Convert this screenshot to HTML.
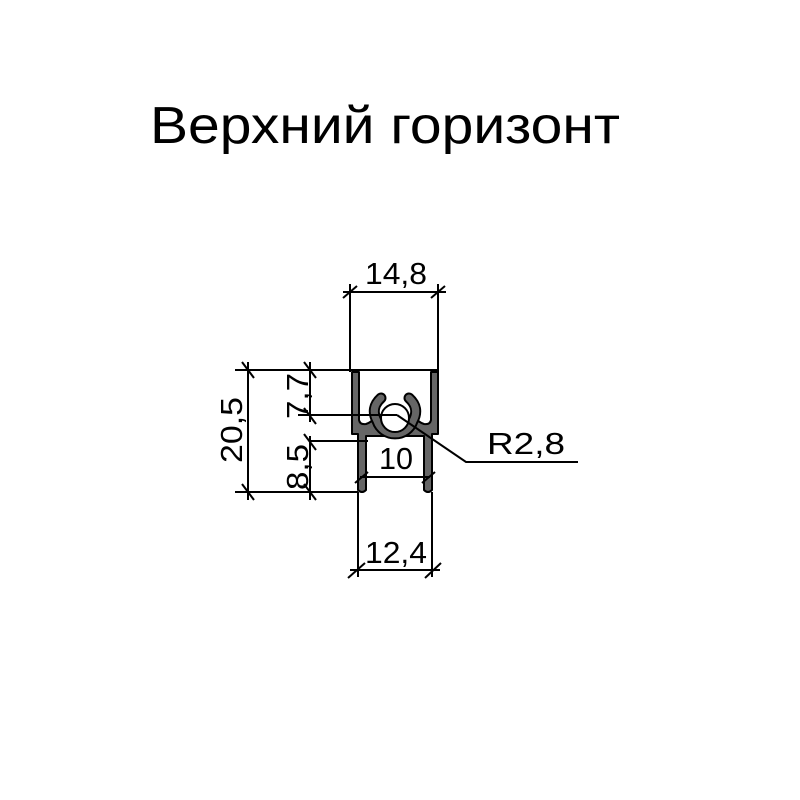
<!DOCTYPE html>
<html><head><style>body{margin:0;background:#fff}svg{display:block}</style></head><body>
<svg width="800" height="800" viewBox="0 0 800 800" xmlns="http://www.w3.org/2000/svg">
<rect width="800" height="800" fill="#fff"/>
<text x="385" y="143" font-family="Liberation Sans, DejaVu Sans, sans-serif" font-size="52" text-anchor="middle" textLength="470" lengthAdjust="spacingAndGlyphs" fill="#000">Верхний горизонт</text>
<g fill="#666" stroke="#000" stroke-width="2" stroke-linejoin="round">
<path d="M352,372 H359 V420 Q360,425 366,424 Q372,422 374,418 L378,424 Q385,434 395,434 Q405,434 412,424 L416,418 Q418,422 424,424 Q430,425 431,420 V372 H438 V434 H432 V490 Q428,494 424,490 V436 H366 V490 Q362,494 358,490 V434 H352 Z"/>
</g>
<path d="M381,398 Q370,408 377,421 A19,19 0 0 0 413,421 Q420,408 409,398" fill="none" stroke="#000" stroke-width="11" stroke-linecap="round"/>
<path d="M381,398 Q370,408 377,421 A19,19 0 0 0 413,421 Q420,408 409,398" fill="none" stroke="#666" stroke-width="7" stroke-linecap="round"/>
<circle cx="395" cy="418" r="14" fill="#fff" stroke="#000" stroke-width="2"/>
<g stroke="#000" stroke-width="2" fill="none">
<line x1="350" y1="284" x2="350" y2="372"/><line x1="438" y1="284" x2="438" y2="372"/>
<line x1="343" y1="292" x2="446" y2="292"/>
<line x1="343" y1="298" x2="357" y2="286"/><line x1="431" y1="298" x2="445" y2="286"/>
<line x1="235" y1="370" x2="438" y2="370"/>
<line x1="235" y1="492" x2="358" y2="492"/>
<line x1="248" y1="362" x2="248" y2="500"/>
<line x1="242" y1="362" x2="254" y2="378"/><line x1="242" y1="484" x2="254" y2="500"/>
<line x1="310" y1="362" x2="310" y2="422"/>
<line x1="304" y1="362" x2="316" y2="378"/><line x1="304" y1="408" x2="316" y2="424"/>
<line x1="298" y1="415" x2="397" y2="415"/>
<line x1="310" y1="436" x2="310" y2="500"/>
<line x1="304" y1="434" x2="316" y2="450"/><line x1="304" y1="484" x2="316" y2="500"/>
<line x1="310" y1="441" x2="368" y2="441"/>
<line x1="360" y1="477" x2="430" y2="477"/>
<line x1="355" y1="483" x2="368" y2="472"/><line x1="422" y1="483" x2="435" y2="472"/>
<line x1="358" y1="492" x2="358" y2="577"/><line x1="432" y1="492" x2="432" y2="577"/>
<line x1="350" y1="570" x2="440" y2="570"/>
<line x1="348" y1="578" x2="365" y2="563"/><line x1="425" y1="578" x2="441" y2="563"/>
<polyline points="397,415 466,462 578,462"/>
</g>
<g font-family="Liberation Sans, DejaVu Sans, sans-serif" font-size="31" fill="#000">
<text x="396" y="284" text-anchor="middle" textLength="62" lengthAdjust="spacingAndGlyphs">14,8</text>
<text x="396" y="563" text-anchor="middle" textLength="62" lengthAdjust="spacingAndGlyphs">12,4</text>
<text x="396" y="469" text-anchor="middle" textLength="34" lengthAdjust="spacingAndGlyphs">10</text>
<text x="487" y="454" textLength="78" lengthAdjust="spacingAndGlyphs">R2,8</text>
<text transform="translate(242,430) rotate(-90)" text-anchor="middle" textLength="66" lengthAdjust="spacingAndGlyphs">20,5</text>
<text transform="translate(308,396) rotate(-90)" text-anchor="middle" textLength="46" lengthAdjust="spacingAndGlyphs">7,7</text>
<text transform="translate(308,467) rotate(-90)" text-anchor="middle" textLength="46" lengthAdjust="spacingAndGlyphs">8,5</text>
</g>
</svg>
</body></html>
